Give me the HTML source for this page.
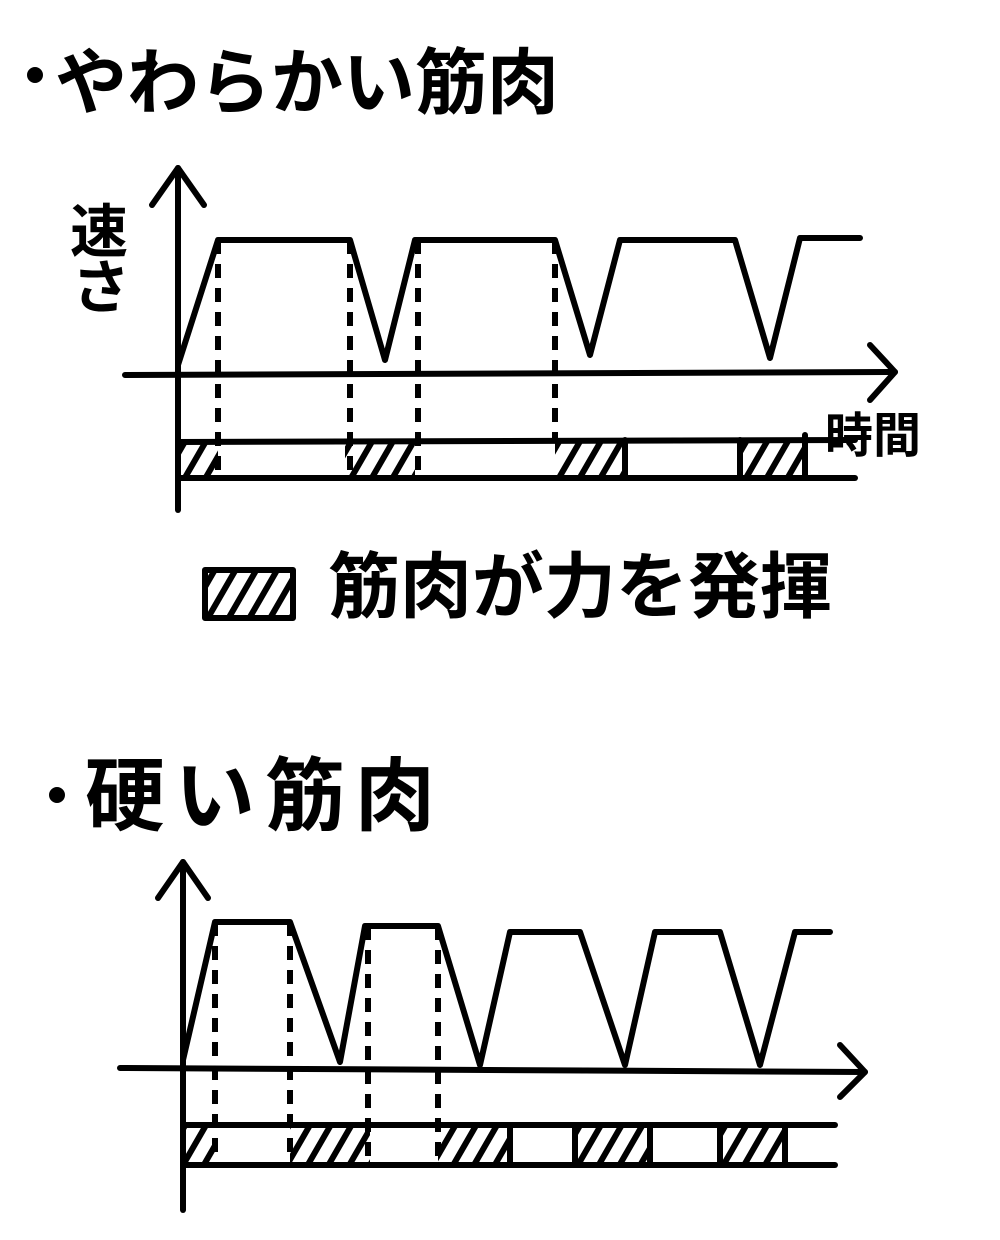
<!DOCTYPE html>
<html><head><meta charset="utf-8"><style>
html,body{margin:0;padding:0;background:#fff}
svg{display:block}
text{font-family:"Liberation Sans","Noto Sans CJK JP",sans-serif;fill:#000;font-weight:bold}
</style></head><body>
<svg width="1000" height="1240" viewBox="0 0 1000 1240" xmlns="http://www.w3.org/2000/svg">
<defs>
<pattern id="h" width="18" height="18" patternUnits="userSpaceOnUse" patternTransform="rotate(30)">
<rect x="0" y="0" width="6" height="18" fill="#000"/>
</pattern>
</defs>
<g stroke="#000" stroke-width="6" fill="none" stroke-linecap="round" stroke-linejoin="round">
<!-- TOP -->
<circle cx="35" cy="75" r="5" fill="#000"/>
<line x1="178" y1="168" x2="178" y2="510"/>
<polyline points="152,205 178,168 204,205"/>
<line x1="125" y1="375" x2="895" y2="372"/>
<polyline points="870,345 895,372 870,400"/>
<polyline points="178,365 218,240 350,240 385,360 415,240 555,240 590,355 620,240 735,240 770,358 800,238 860,238"/>
<g stroke-dasharray="14,10" stroke-linecap="butt">
<line x1="218" y1="240" x2="218" y2="480"/>
<line x1="350" y1="240" x2="350" y2="480"/>
<line x1="418" y1="240" x2="418" y2="480"/>
<line x1="555" y1="240" x2="555" y2="442"/>
</g>
<rect x="180" y="441" width="38" height="37" fill="url(#h)" stroke="none"/>
<rect x="345" y="441" width="70" height="37" fill="url(#h)" stroke="none"/>
<rect x="555" y="441" width="70" height="37" fill="url(#h)" stroke="none"/>
<rect x="740" y="441" width="65" height="37" fill="url(#h)" stroke="none"/>
<line x1="178" y1="442" x2="855" y2="440"/>
<line x1="178" y1="478" x2="855" y2="478"/>
<line x1="625" y1="440" x2="625" y2="478"/>
<line x1="805" y1="435" x2="805" y2="478"/>
<line x1="740" y1="440" x2="740" y2="478"/>
<rect x="205" y="570" width="88" height="48" fill="url(#h)"/>
<!-- BOTTOM -->
<circle cx="57" cy="795" r="5" fill="#000"/>
<line x1="183" y1="862" x2="183" y2="1210"/>
<polyline points="158,898 183,862 208,898"/>
<line x1="120" y1="1068" x2="865" y2="1072"/>
<polyline points="840,1045 865,1072 840,1097"/>
<polyline points="183,1060 215,922 290,922 340,1062 365,926 438,926 480,1065 510,932 580,932 625,1065 655,932 720,932 760,1065 795,932 830,932"/>
<g stroke-dasharray="14,10" stroke-linecap="butt">
<line x1="215" y1="922" x2="215" y2="1165"/>
<line x1="290" y1="922" x2="290" y2="1165"/>
<line x1="368" y1="926" x2="368" y2="1165"/>
<line x1="438" y1="926" x2="438" y2="1165"/>
</g>
<rect x="185" y="1126" width="30" height="39" fill="url(#h)" stroke="none"/>
<rect x="290" y="1126" width="80" height="39" fill="url(#h)" stroke="none"/>
<rect x="438" y="1126" width="72" height="39" fill="url(#h)" stroke="none"/>
<rect x="575" y="1126" width="75" height="39" fill="url(#h)" stroke="none"/>
<rect x="720" y="1126" width="65" height="39" fill="url(#h)" stroke="none"/>
<line x1="183" y1="1125" x2="835" y2="1125"/>
<line x1="183" y1="1165" x2="835" y2="1165"/>
<line x1="510" y1="1125" x2="510" y2="1165"/>
<line x1="575" y1="1125" x2="575" y2="1165"/>
<line x1="650" y1="1125" x2="650" y2="1165"/>
<line x1="720" y1="1125" x2="720" y2="1165"/>
<line x1="785" y1="1125" x2="785" y2="1165"/>
</g>
<text x="55" y="108" font-size="72">やわらかい筋肉</text>
<text x="70" y="252" font-size="58">速</text>
<text x="72" y="308" font-size="58">さ</text>
<text x="825" y="452" font-size="48">時間</text>
<text x="328" y="612" font-size="72">筋肉が力を発揮</text>
<text x="85" y="824" font-size="80" letter-spacing="10">硬い筋肉</text>
</svg>
</body></html>
